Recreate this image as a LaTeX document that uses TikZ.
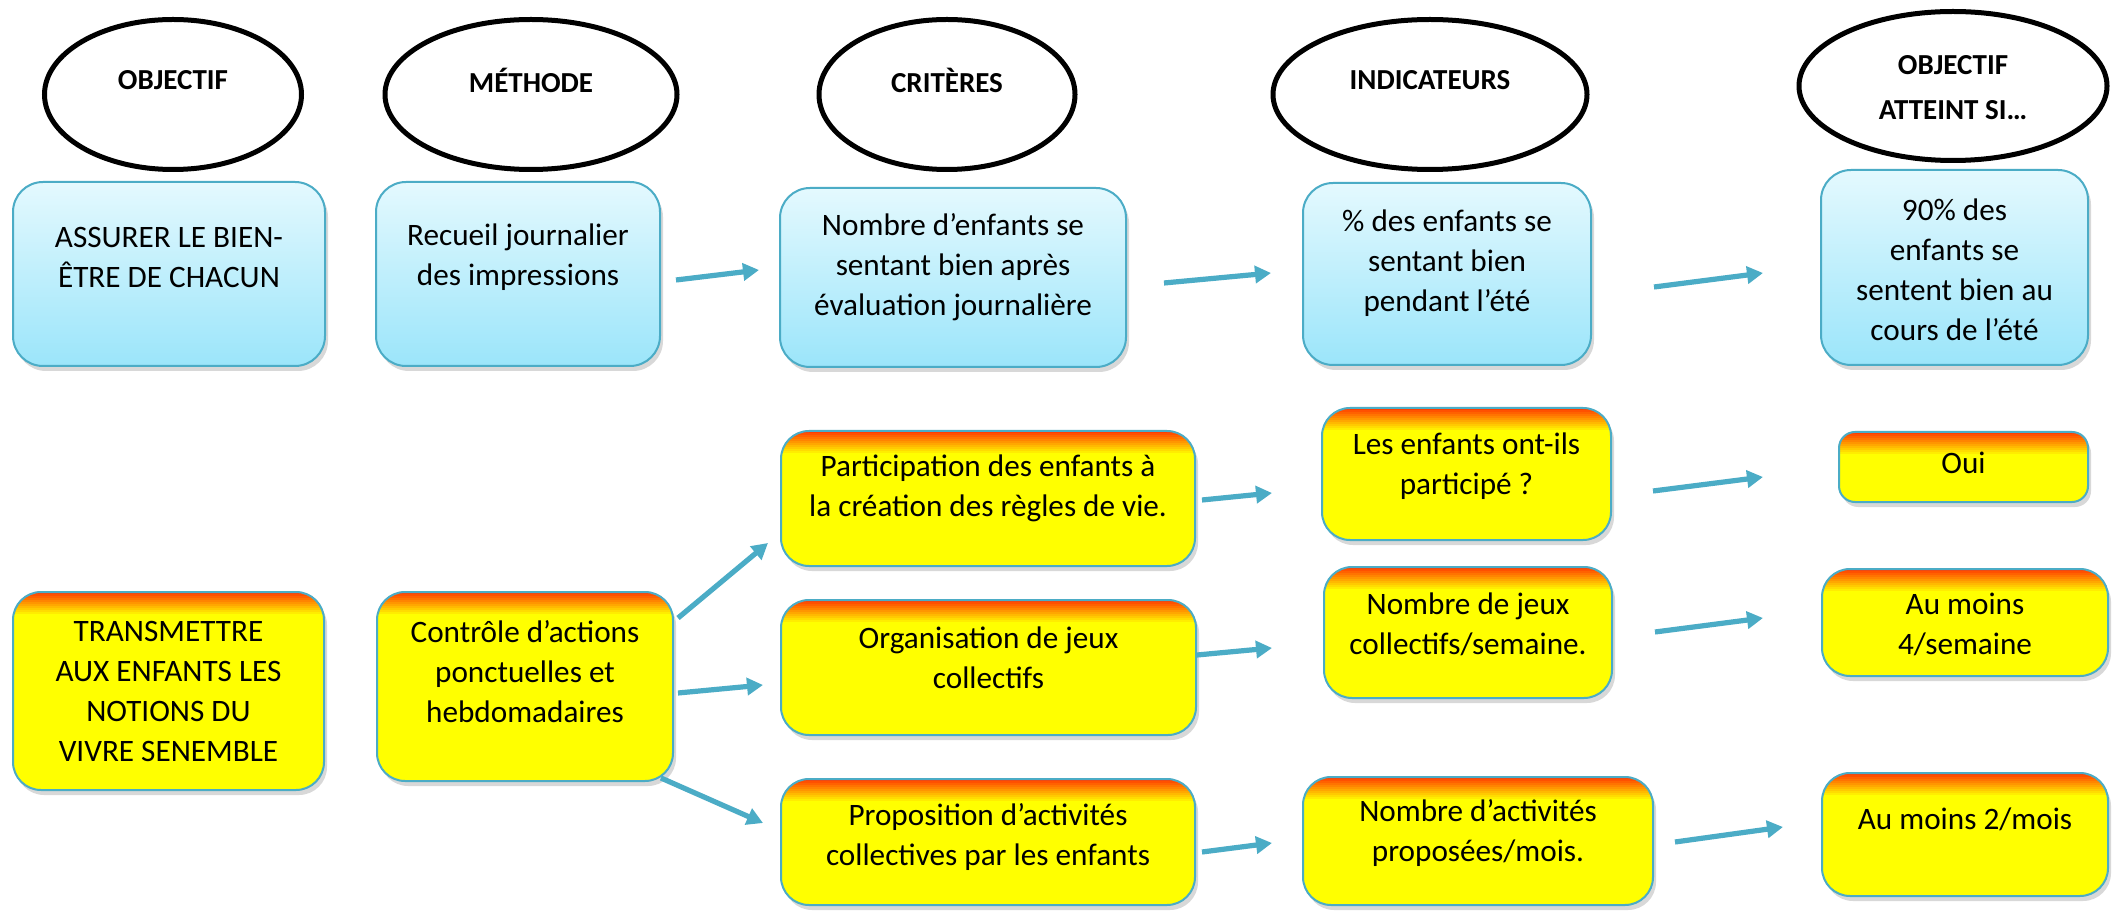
\documentclass[tikz,border=0pt]{standalone}
\usepackage{fontspec}
\setmainfont{Carlito}
\usetikzlibrary{arrows.meta,shadows,shapes.geometric}
\definecolor{bord}{RGB}{75,172,198}
\definecolor{bluetop}{RGB}{228,249,254}
\definecolor{bluebot}{RGB}{155,229,250}
\definecolor{redtop}{RGB}{255,45,0}
\definecolor{yel}{RGB}{255,255,0}
\definecolor{arr}{RGB}{75,172,198}
\tikzset{
  shad/.style={drop shadow={shadow xshift=1.5pt, shadow yshift=-2.5pt, opacity=0.3}},
  bluebox/.style={draw=bord, line width=1pt, rounded corners=15pt, top color=bluetop, bottom color=bluebot, shad, inner sep=0pt},
  yelbox/.style={draw=bord, line width=1pt, rounded corners=14pt, fill=yel, shad, inner sep=0pt,
    path picture={
      \foreach \i [evaluate=\i as \p using \i*100/12] in {0,...,12}
        \fill[draw=none, sharp corners, color=yel!\p!redtop]
          ([yshift=1pt-\i*1pt]path picture bounding box.north west) rectangle
          ([yshift=-0.1pt-\i*1pt]path picture bounding box.north east);
    }},
  ell/.style={ellipse, draw=black, line width=2.5pt, fill=white, inner sep=0pt},
  txt/.style={align=center, inner sep=0pt, font=\fontsize{15.6}{20}\selectfont},
  ttl/.style={align=center, inner sep=0pt, font=\fontsize{14.5}{22.5}\selectfont\bfseries},
  arrowst/.style={draw=arr, line width=2.6pt, -{Triangle[length=8pt,width=8.5pt]}}
}
\begin{document}
\begin{tikzpicture}[x=0.5pt,y=-0.5pt]
\useasboundingbox[fill=white] (0,0) rectangle (2125,914);

% header ellipses
\node[ell, minimum width=128.5pt, minimum height=75pt] (e1) at (173,94.5) {};
\node[ttl] (e1t) at (173,80) {OBJECTIF};
\node[ell, minimum width=146pt, minimum height=75pt] (e2) at (531,94.5) {};
\node[ttl] (e2t) at (531,80) {MÉTHODE};
\node[ell, minimum width=128pt, minimum height=75pt] (e3) at (947,94.5) {};
\node[ttl] (e3t) at (947,80) {CRITÈRES};
\node[ell, minimum width=157pt, minimum height=75pt] (e4) at (1430,94.5) {};
\node[ttl] (e4t) at (1430,80) {INDICATEURS};
\node[ell, minimum width=154pt, minimum height=74.5pt] (e5) at (1953,86) {};
\node[ttl] (e5t) at (1953,88) {OBJECTIF\\ATTEINT SI…};

% top row blue boxes
\node[bluebox, minimum width=156pt, minimum height=92pt] (b1) at (169,274) {};
\node[txt] (b1t) at (169,257) {ASSURER LE BIEN-\\ÊTRE DE CHACUN};
\node[bluebox, minimum width=142pt, minimum height=92pt] (b2) at (518,274) {};
\node[txt] (b2t) at (518,257) {Recueil journalier\\des impressions};
\node[bluebox, minimum width=173pt, minimum height=89.5pt] (b3) at (953,277.5) {};
\node[txt] (b3t) at (953,267) {Nombre d’enfants se\\sentant bien après\\évaluation journalière};
\node[bluebox, minimum width=144pt, minimum height=91pt] (b4) at (1447,274) {};
\node[txt] (b4t) at (1447,263) {\% des enfants se\\sentant bien\\pendant l’été};
\node[bluebox, minimum width=133.5pt, minimum height=97.5pt] (b5) at (1954.5,267.5) {};
\node[txt] (b5t) at (1954.5,270) {90\% des\\enfants se\\sentent bien au\\cours de l’été};

% yellow boxes
\node[yelbox, minimum width=155.5pt, minimum height=99pt] (y1) at (168.5,691) {};
\node[txt] (y1t) at (168.5,691) {TRANSMETTRE\\AUX ENFANTS LES\\NOTIONS DU\\VIVRE SENEMBLE};
\node[yelbox, minimum width=148pt, minimum height=94.5pt] (y2) at (525,686.5) {};
\node[txt] (y2t) at (525,672) {Contrôle d’actions\\ponctuelles et\\hebdomadaires};

\node[yelbox, minimum width=207pt, minimum height=67.5pt] (c1) at (988,498.5) {};
\node[txt] (c1t) at (988,488) {Participation des enfants à\\la création des règles de vie.};
\node[yelbox, minimum width=207.5pt, minimum height=67.5pt] (c2) at (988.5,667.5) {};
\node[txt] (c2t) at (988.5,657.5) {Organisation de jeux\\collectifs};
\node[yelbox, minimum width=207pt, minimum height=63pt] (c3) at (988,842) {};
\node[txt] (c3t) at (988,837) {Proposition d’activités\\collectives par les enfants};

\node[yelbox, minimum width=144.5pt, minimum height=66pt] (i1) at (1466.5,474) {};
\node[txt] (i1t) at (1466.5,466) {Les enfants ont-ils\\participé ?};
\node[yelbox, minimum width=144pt, minimum height=65.5pt] (i2) at (1468,632.5) {};
\node[txt] (i2t) at (1468,624) {Nombre de jeux\\collectifs/semaine.};
\node[yelbox, minimum width=175pt, minimum height=64pt] (i3) at (1478,841) {};
\node[txt] (i3t) at (1478,833.5) {Nombre d’activités\\proposées/mois.};

\node[yelbox, rounded corners=8pt, minimum width=124.5pt, minimum height=35pt] (o1) at (1963.5,467) {};
\node[txt] (o1t) at (1963.5,463) {Oui};
\node[yelbox, minimum width=143pt, minimum height=53.5pt] (o2) at (1965,622.5) {};
\node[txt] (o2t) at (1965,624.5) {Au moins\\4/semaine};
\node[yelbox, minimum width=143pt, minimum height=61.5pt] (o3) at (1965,834.5) {};
\node[txt] (o3t) at (1965,819) {Au moins 2/mois};

% arrow end points
\coordinate (a1s) at (676,280);  \coordinate (a1e) at (759,270);
\coordinate (a2s) at (1164,283); \coordinate (a2e) at (1271,273);
\coordinate (a3s) at (1654,287); \coordinate (a3e) at (1763,273);
\coordinate (m1s) at (678,618);  \coordinate (m1e) at (768,543);
\coordinate (m2s) at (678,693);  \coordinate (m2e) at (763,685);
\coordinate (m3s) at (661,778);  \coordinate (m3e) at (763,823);
\coordinate (c1s) at (1202,500); \coordinate (c1e) at (1272,493);
\coordinate (c2s) at (1197,655); \coordinate (c2e) at (1272,648);
\coordinate (c3s) at (1202,852); \coordinate (c3e) at (1272,843);
\coordinate (i1s) at (1653,491); \coordinate (i1e) at (1763,477);
\coordinate (i2s) at (1655,632); \coordinate (i2e) at (1763,618);
\coordinate (i3s) at (1675,842); \coordinate (i3e) at (1783,827);

\foreach \a in {a1,a2,a3,m1,m2,m3,c1,c2,c3,i1,i2,i3}
  \draw[arrowst] (\a s) -- (\a e);
\end{tikzpicture}
\end{document}
